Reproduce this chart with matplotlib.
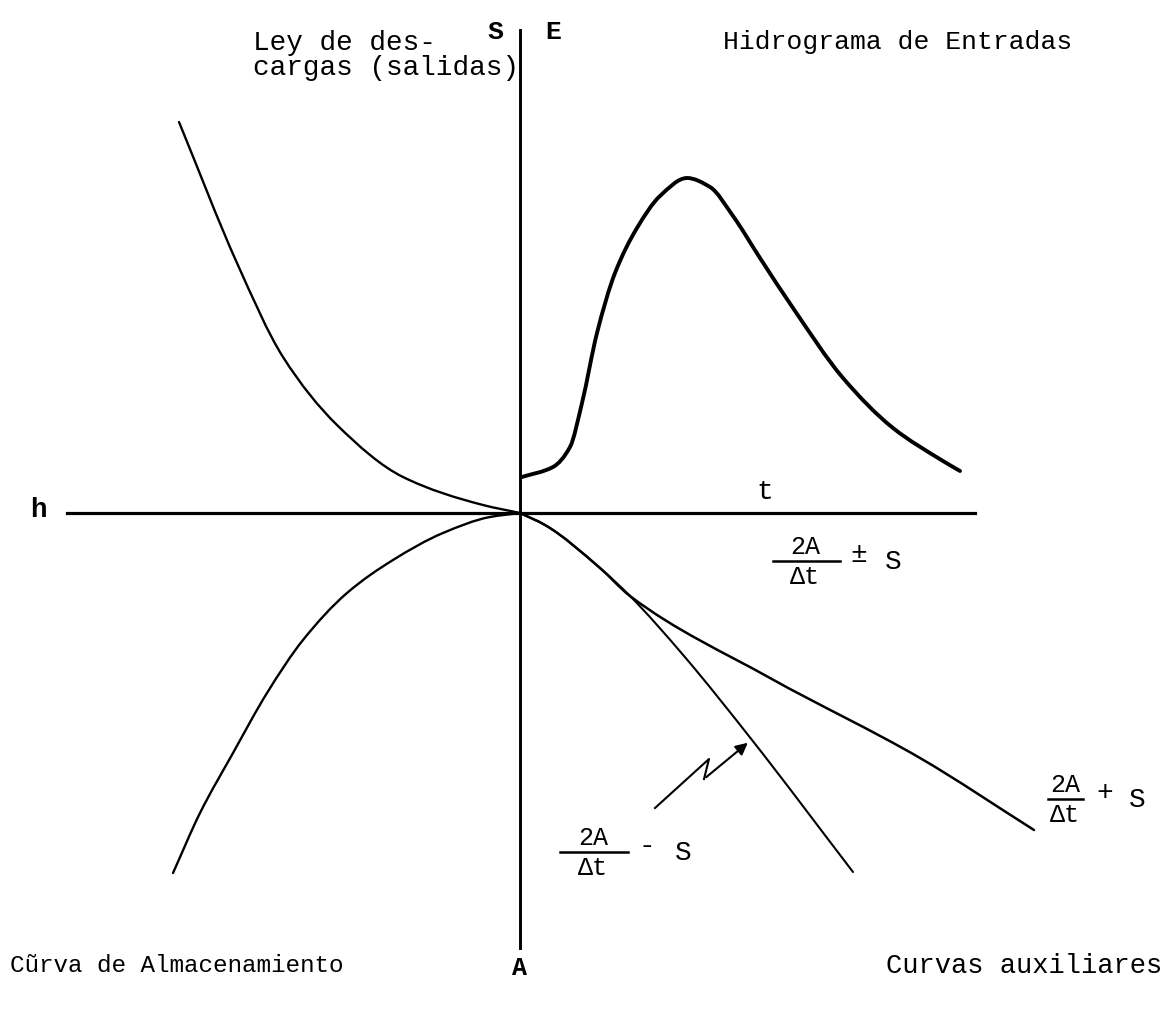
import numpy as np
import matplotlib
matplotlib.use("Agg")
import matplotlib.pyplot as plt
from matplotlib.path import Path
from matplotlib.patches import PathPatch

plt.rcParams['font.family'] = ['Liberation Mono', 'DejaVu Sans Mono']

# curves, origin at the axes crossing (x right, y up)
descarga_x = [-341, -283, -237, -183, -117, -37, 0]
descarga_y = [391, 250, 156, 88, 36, 8, 0]

hidro_x = [2, 33, 50, 62, 77, 95, 117, 140, 167, 190, 213, 240, 273, 323, 373, 423, 440]
hidro_y = [36, 46, 66, 110, 180, 240, 285, 317, 335, 326, 297, 255, 205, 135, 85, 52, 42]

almac_x = [-347, -320, -287, -253, -217, -173, -127, -77, -30, 0]
almac_y = [-360, -300, -240, -180, -127, -80, -47, -20, -4, 0]

mas_x = [0, 25, 80, 110, 250, 400, 514]
mas_y = [0, -12, -55, -83, -165, -245, -317]

menos_x = [0, 25, 80, 110, 164, 232, 333]
menos_y = [0, -12, -55, -83, -143, -227, -359]

flecha_x = [135, 189, 184, 230]
flecha_y = [-295, -246, -266, -228]

eje_h = [-453, 455]
eje_v = [483, -435]

fig = plt.figure(figsize=(11.67, 10.15), dpi=100)
ax = fig.add_axes([0, 0, 1, 1])
ax.set_xlim(-520, 647)
ax.set_ylim(-502, 513)
ax.axis('off')

k = 'black'


def suave(xs, ys, lw):
    # monotone cubic (Fritsch-Carlson) through the read points, drawn as Bezier
    x = np.asarray(xs, float)
    y = np.asarray(ys, float)
    h = np.diff(x)
    d = np.diff(y) / h
    m = np.zeros_like(x)
    m[0], m[-1] = d[0], d[-1]
    for i in range(1, len(x) - 1):
        if d[i - 1] * d[i] > 0:
            w1 = 2 * h[i] + h[i - 1]
            w2 = h[i] + 2 * h[i - 1]
            m[i] = (w1 + w2) / (w1 / d[i - 1] + w2 / d[i])
    verts = [(x[0], y[0])]
    codes = [Path.MOVETO]
    for i in range(len(x) - 1):
        verts += [(x[i] + h[i] / 3, y[i] + m[i] * h[i] / 3),
                  (x[i + 1] - h[i] / 3, y[i + 1] - m[i + 1] * h[i] / 3),
                  (x[i + 1], y[i + 1])]
        codes += [Path.CURVE4] * 3
    ax.add_patch(PathPatch(Path(verts, codes), fill=False, edgecolor=k, lw=lw,
                           capstyle='round', joinstyle='round'))


ax.plot(eje_h, [0, 0], color=k, lw=2.3)
ax.plot([0, 0], eje_v, color=k, lw=2.1)

suave(descarga_x, descarga_y, 1.7)
suave(hidro_x, hidro_y, 2.8)
suave(almac_x, almac_y, 1.7)
suave(mas_x, mas_y, 1.8)
suave(menos_x, menos_y, 1.5)

ax.plot(flecha_x[:-1], flecha_y[:-1], color=k, lw=1.5)
ax.annotate('', xy=(flecha_x[-1], flecha_y[-1]), xytext=(flecha_x[-2], flecha_y[-2]),
            arrowprops=dict(arrowstyle='-|>', color=k, lw=1.5, mutation_scale=18))

# labels
ax.text(-267, 463, 'Ley de des-', fontsize=20, va='baseline', ha='left')
ax.text(-267, 438, 'cargas (salidas)', fontsize=20, va='baseline', ha='left')
ax.text(-25, 481, 'S', fontsize=19, va='center', ha='center', fontweight='bold')
ax.text(33, 481, 'E', fontsize=19, va='center', ha='center', fontweight='bold')
ax.text(203, 471, 'Hidrograma de Entradas', fontsize=19, va='center', ha='left')
ax.text(-482, 3, 'h', fontsize=20, va='center', ha='center', fontweight='bold')
ax.text(245, 21, 't', fontsize=20, va='center', ha='center')


def fraccion(xc, y, x0, x1, signo, xs, xS):
    ax.text(xc, y + 14, '2A', fontsize=18, va='center', ha='center')
    ax.plot([x0, x1], [y, y], color=k, lw=1.8)
    ax.text(xc, y - 16, '\u0394t', fontsize=18, va='center', ha='center')
    ax.text(xs, y + 6, signo, fontsize=20, va='center', ha='center')
    ax.text(xS, y - 1, 'S', fontsize=20, va='center', ha='center')


fraccion(285, -48, 253, 320, '\u00b1', 339, 373)
fraccion(545, -286, 528, 563, '+', 585, 617)
fraccion(73, -339, 40, 108, '-', 127, 163)

ax.text(-510, -453, 'C\u0169rva de Almacenamiento', fontsize=17.5, va='center', ha='left')
ax.text(0, -455, 'A', fontsize=18, va='center', ha='center', fontweight='bold')
ax.text(642, -453, 'Curvas auxiliares', fontsize=19.5, va='center', ha='right')

fig.savefig('out.png', dpi=100)
